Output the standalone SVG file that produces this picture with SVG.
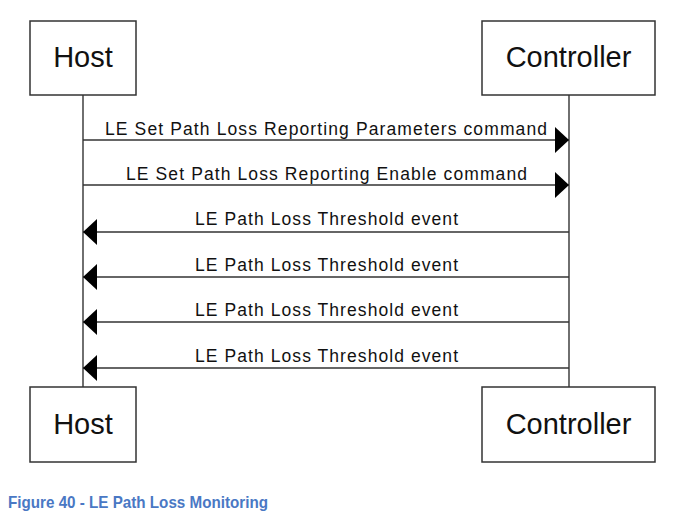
<svg xmlns="http://www.w3.org/2000/svg" width="679" height="515" viewBox="0 0 679 515">
<style>
.box{fill:#fff;stroke:#333;stroke-width:1.5}
.life{stroke:#333;stroke-width:1.4;fill:none}
.msg{stroke:#333;stroke-width:1.4;fill:none}
.name{font-family:"Liberation Sans",Arial,sans-serif;font-size:29px;fill:#111;text-anchor:middle}
.lbl{font-family:"Liberation Sans",Arial,sans-serif;font-size:17.5px;fill:#111;text-anchor:middle}
.cap{font-family:"Liberation Sans",Arial,sans-serif;font-size:16.5px;font-weight:bold;fill:#4a78c4}
</style>
<defs>
<marker id="ah" viewBox="0 0 14 26" refX="14" refY="13" markerWidth="14" markerHeight="26" markerUnits="userSpaceOnUse" orient="auto">
<path d="M0,0 L14,13 L0,26 Z" fill="#000"/>
</marker>
</defs>
<rect width="679" height="515" fill="#fff"/>
<g id="lifelines">
<line class="life" x1="83" y1="95" x2="83" y2="387"/>
<line class="life" x1="569" y1="95" x2="569" y2="387"/>
</g>
<g id="host-top"><rect class="box" x="30" y="21" width="106" height="74"/><text class="name" x="83" y="67">Host</text></g>
<g id="controller-top"><rect class="box" x="482" y="21" width="173" height="74"/><text class="name" x="568.5" y="67">Controller</text></g>
<g id="host-bottom"><rect class="box" x="30" y="387" width="106" height="75"/><text class="name" x="83" y="434">Host</text></g>
<g id="controller-bottom"><rect class="box" x="482" y="387" width="173" height="75"/><text class="name" x="568.5" y="434">Controller</text></g>
<g id="connectors">
<line class="msg" x1="83" y1="140" x2="569" y2="140" marker-end="url(#ah)"/>
<line class="msg" x1="83" y1="185" x2="569" y2="185" marker-end="url(#ah)"/>
<line class="msg" x1="569" y1="232" x2="83" y2="232" marker-end="url(#ah)"/>
<line class="msg" x1="569" y1="277" x2="83" y2="277" marker-end="url(#ah)"/>
<line class="msg" x1="569" y1="322" x2="83" y2="322" marker-end="url(#ah)"/>
<line class="msg" x1="569" y1="368" x2="83" y2="368" marker-end="url(#ah)"/>
<text class="lbl" x="326" y="135" textLength="442" lengthAdjust="spacing">LE Set Path Loss Reporting Parameters command</text>
<text class="lbl" x="326.5" y="180" textLength="401" lengthAdjust="spacing">LE Set Path Loss Reporting Enable command</text>
<text class="lbl" x="326.5" y="225" textLength="263" lengthAdjust="spacing">LE Path Loss Threshold event</text>
<text class="lbl" x="326.5" y="271" textLength="263" lengthAdjust="spacing">LE Path Loss Threshold event</text>
<text class="lbl" x="326.5" y="316" textLength="263" lengthAdjust="spacing">LE Path Loss Threshold event</text>
<text class="lbl" x="326.5" y="362" textLength="263" lengthAdjust="spacing">LE Path Loss Threshold event</text>
</g>
<text class="cap" x="8" y="508" textLength="260" lengthAdjust="spacingAndGlyphs">Figure 40 - LE Path Loss Monitoring</text>
</svg>
